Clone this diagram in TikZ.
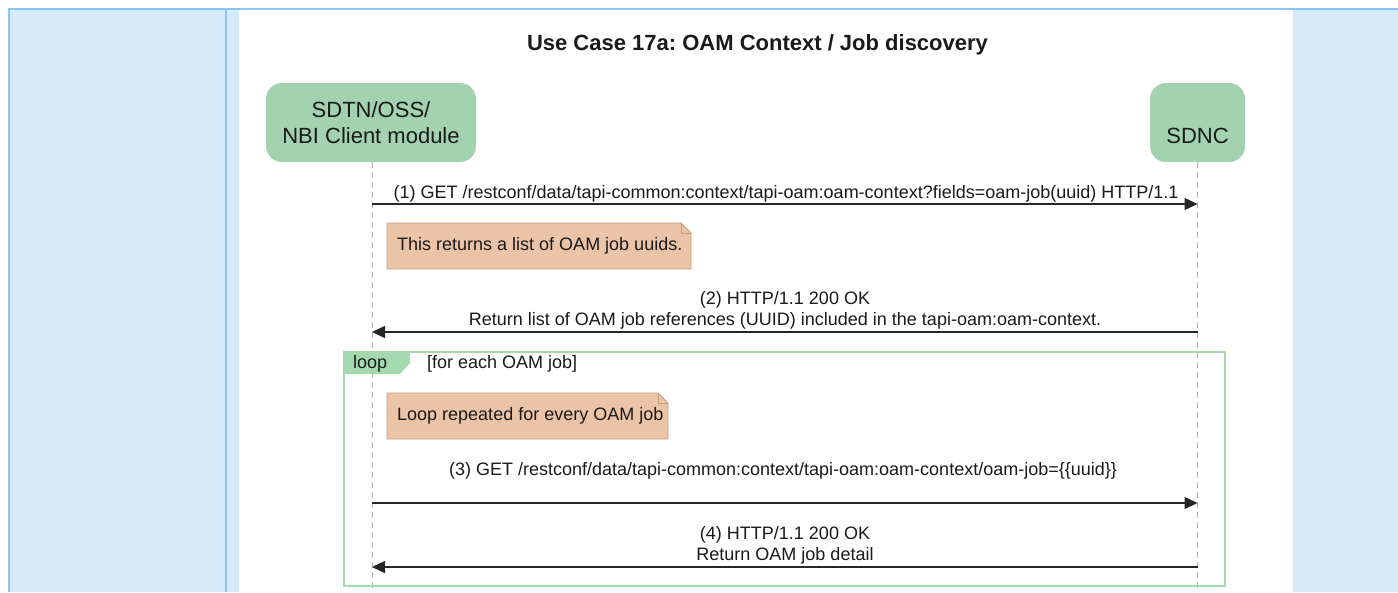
\documentclass[tikz,border=0pt]{standalone}
\usepackage{fontspec}
\setmainfont{Liberation Sans}
\usetikzlibrary{arrows.meta}
\frenchspacing
\definecolor{pageblue}{HTML}{D7EAF9}
\definecolor{lineblue}{HTML}{8AC4F2}
\definecolor{partgreen}{HTML}{A2D2AF}
\definecolor{loopgreen}{HTML}{A4D8AE}
\definecolor{notefill}{HTML}{EBC3A7}
\definecolor{notedraw}{HTML}{C49D80}
\definecolor{txt}{HTML}{1A1A1A}
\tikzset{
  pbox/.style={draw=none,fill=partgreen,rounded corners=16pt,inner sep=0pt},
  ptext/.style={text=txt,font=\fontsize{22}{26}\selectfont,align=center,inner sep=0pt},
  msgtext/.style={text=txt,font=\fontsize{18}{21}\selectfont,align=center,inner sep=0pt},
  notetext/.style={text=txt,font=\fontsize{18}{21}\selectfont,anchor=west,inner sep=0pt},
  lifeline/.style={draw=gray!60,line width=0.9pt,dash pattern=on 6pt off 4pt},
  msg/.style={draw=black!85,line width=1.4pt,-{Triangle[length=13pt,width=12pt]}},
  notebox/.style={fill=notefill,draw=notedraw,line width=0.9pt},
}
\begin{document}
\begin{tikzpicture}[x=1pt,y=-1pt]
\useasboundingbox (0,0) rectangle (1398,592);
\fill[white] (0,0) rectangle (1398,592);
% page panels
\fill[pageblue] (8,8) rectangle (239,592);
\fill[pageblue] (1293,8) rectangle (1398,592);
\draw[lineblue,line width=2.2pt] (8,9) -- (1398,9);
\draw[lineblue,line width=2pt] (9,8) -- (9,592);
\draw[lineblue,line width=2pt] (225.5,9) -- (225.5,592);

% title
\node[text=txt,font=\bfseries\fontsize{22}{26}\selectfont,inner sep=0pt] (title) at (757.5,45) {Use Case 17a: OAM Context / Job discovery};

% participants
\node[pbox,minimum width=210pt,minimum height=79pt] (p1) at (371,122.5) {};
\node[pbox,minimum width=95pt,minimum height=79pt] (p2) at (1197.5,122.5) {};
\node[ptext] (p1t) at (371,122.5) {SDTN/OSS/\\NBI Client module};
\node[ptext] (p2t) at (1197.5,136) {SDNC};

% lifelines
\coordinate (l1end) at (372,592);
\coordinate (l2end) at (1197.5,592);
\draw[lifeline] (p1.south -| l1end) -- (l1end);
\draw[lifeline] (p2.south) -- (l2end);

% loop frame
\draw[loopgreen,line width=1.8pt] (344,352) rectangle (1225,586);
\fill[loopgreen] (344,352) -- (410,352) -- (410,363) -- (400,374) -- (344,374) -- cycle;
\node[text=txt,font=\fontsize{18}{21}\selectfont,anchor=west,inner sep=0pt] (looplbl) at (353,364) {loop};
\node[text=txt,font=\fontsize{18}{21}\selectfont,anchor=west,inner sep=0pt] (loopcond) at (427,364) {[for each OAM job]};

% message endpoints
\coordinate (m1a) at (372,204);   \coordinate (m1b) at (1197.5,204);
\coordinate (m2a) at (1197.5,332); \coordinate (m2b) at (372,332);
\coordinate (m3a) at (372,503);   \coordinate (m3b) at (1197.5,503);
\coordinate (m4a) at (1197.5,567); \coordinate (m4b) at (372,567);

% message 1
\node[msgtext] (m1t) at (786,194) {(1) GET /restconf/data/tapi-common:context/tapi-oam:oam-context?fields=oam-job(uuid) HTTP/1.1};
\draw[msg] (m1a) -- (m1b);

% note 1
\draw[notebox] (387,223) -- (681,223) -- (691,233) -- (691,269) -- (387,269) -- cycle;
\draw[notedraw,line width=0.9pt] (681,223) -- (681,233) -- (691,233);
\node[notetext] (n1) at (397,246) {This returns a list of OAM job uuids.};

% message 2
\node[msgtext] (m2t1) at (785,300) {(2) HTTP/1.1 200 OK};
\node[msgtext] (m2t2) at (785,321) {Return list of OAM job references (UUID) included in the tapi-oam:oam-context.};
\draw[msg] (m2a) -- (m2b);

% note 2
\draw[notebox] (387,393) -- (658,393) -- (668,403) -- (668,439) -- (387,439) -- cycle;
\draw[notedraw,line width=0.9pt] (658,393) -- (658,403) -- (668,403);
\node[notetext] (n2) at (397,416) {Loop repeated for every OAM job};

% message 3
\node[msgtext] (m3t) at (783,471) {(3) GET /restconf/data/tapi-common:context/tapi-oam:oam-context/oam-job=\{\{uuid\}\}};
\draw[msg] (m3a) -- (m3b);

% message 4
\node[msgtext] (m4t1) at (785,535) {(4) HTTP/1.1 200 OK};
\node[msgtext] (m4t2) at (785,556) {Return OAM job detail};
\draw[msg] (m4a) -- (m4b);
\end{tikzpicture}
\end{document}
